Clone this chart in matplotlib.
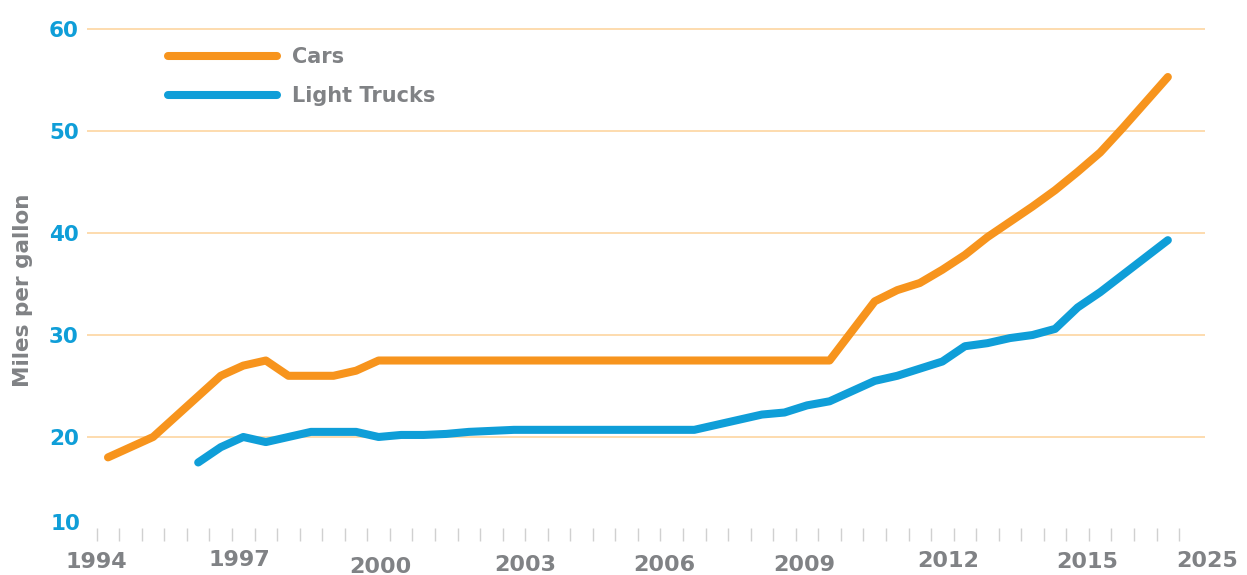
import numpy as np
import matplotlib
matplotlib.use("Agg")
import matplotlib.pyplot as plt
from matplotlib.transforms import blended_transform_factory

# model years plotted (one point per year)
years = list(range(1978, 2026))

cars = [18.0, 19.0, 20.0, 22.0, 24.0, 26.0, 27.0, 27.5, 26.0, 26.0,
        26.0, 26.5, 27.5, 27.5, 27.5, 27.5, 27.5, 27.5, 27.5, 27.5,
        27.5, 27.5, 27.5, 27.5, 27.5, 27.5, 27.5, 27.5, 27.5, 27.5,
        27.5, 27.5, 27.5, 30.4, 33.3, 34.4, 35.1, 36.4, 37.85, 39.6,
        41.1, 42.6, 44.2, 46.0, 47.9, 50.3, 52.8, 55.3]

light_trucks = [np.nan, np.nan, np.nan, np.nan, 17.5, 19.0, 20.0, 19.5, 20.0, 20.5,
                20.5, 20.5, 20.0, 20.2, 20.2, 20.3, 20.5, 20.6, 20.7, 20.7,
                20.7, 20.7, 20.7, 20.7, 20.7, 20.7, 20.7, 21.2, 21.7, 22.2,
                22.4, 23.1, 23.5, 24.5, 25.5, 26.0, 26.7, 27.4, 28.9, 29.2,
                29.7, 30.0, 30.6, 32.7, 34.2, 35.9, 37.6, 39.3]

ytick_vals = [20, 30, 40, 50, 60]
xlabels = ["1994", "1997", "2000", "2003", "2006", "2009", "2012", "2015", "2025"]

# where the (hand-placed) year labels sit: x in category units, y in pixels from top
xlabel_x = [-0.53, 5.81, 12.06, 18.49, 24.66, 30.86, 37.25, 43.41, 48.74]
xlabel_ypx = [562, 560, 567, 565, 565, 565, 561, 562, 561]

orange = "#f7941d"
blue = "#0f9ed8"
grey = "#808285"
grid_col = "#fdd9a8"

W, H = 1247, 575
fig = plt.figure(figsize=(W / 100, H / 100), dpi=100)
ax = fig.add_axes([87 / W, (H - 541) / H, (1205 - 87) / W, (541 - 25) / H])

x = np.arange(len(years))
ax.plot(x, cars, color=orange, lw=5.8, solid_capstyle="round",
        solid_joinstyle="round", label="Cars", zorder=3)
ax.plot(x, light_trucks, color=blue, lw=5.8, solid_capstyle="round",
        solid_joinstyle="round", label="Light Trucks", zorder=3)

ax.set_xlim((87 - 108) / 22.55, (1205 - 108) / 22.55)
ax.set_ylim(9.8, 60.4)

for v in ytick_vals:
    ax.axhline(v, color=grid_col, lw=1.3, zorder=1)

for s in ax.spines.values():
    s.set_visible(False)

# year boundary ticks
ax.set_xticks(np.arange(len(years) + 1) - 0.5)
ax.set_xticklabels([])
ax.tick_params(axis="x", direction="in", length=9.5, width=1, color="#d0d0d0")

ax.set_yticks(ytick_vals)
ax.set_yticklabels([str(v) for v in ytick_vals])
ax.tick_params(axis="y", length=0, pad=6, labelsize=15.5, labelcolor=blue)
for t in ax.get_yticklabels():
    t.set_fontweight("bold")
ax.text(ax.get_xlim()[0] - 0.3, 11.5, "10", ha="right", va="center",
        fontsize=15.5, fontweight="bold", color=blue, clip_on=False)

trans = blended_transform_factory(ax.transData, fig.transFigure)
for lab, xx, ypx in zip(xlabels, xlabel_x, xlabel_ypx):
    ax.text(xx, 1 - ypx / H, lab, ha="center", va="center", fontsize=16,
            fontweight="bold", color=grey, transform=trans, clip_on=False)

fig.text(23 / W, 1 - 290 / H, "Miles per gallon", rotation=90, ha="center",
         va="center", fontsize=15.5, fontweight="bold", color=grey)

leg = ax.legend(loc="upper left", bbox_to_anchor=(168 / W, 1 - 47 / H),
                bbox_transform=fig.transFigure, frameon=False,
                handlelength=5.25, handletextpad=0.72, labelspacing=0.92,
                prop={"size": 15, "weight": "bold"}, borderpad=0, borderaxespad=0)
for t in leg.get_texts():
    t.set_color(grey)

fig.savefig("out.png", dpi=100)
